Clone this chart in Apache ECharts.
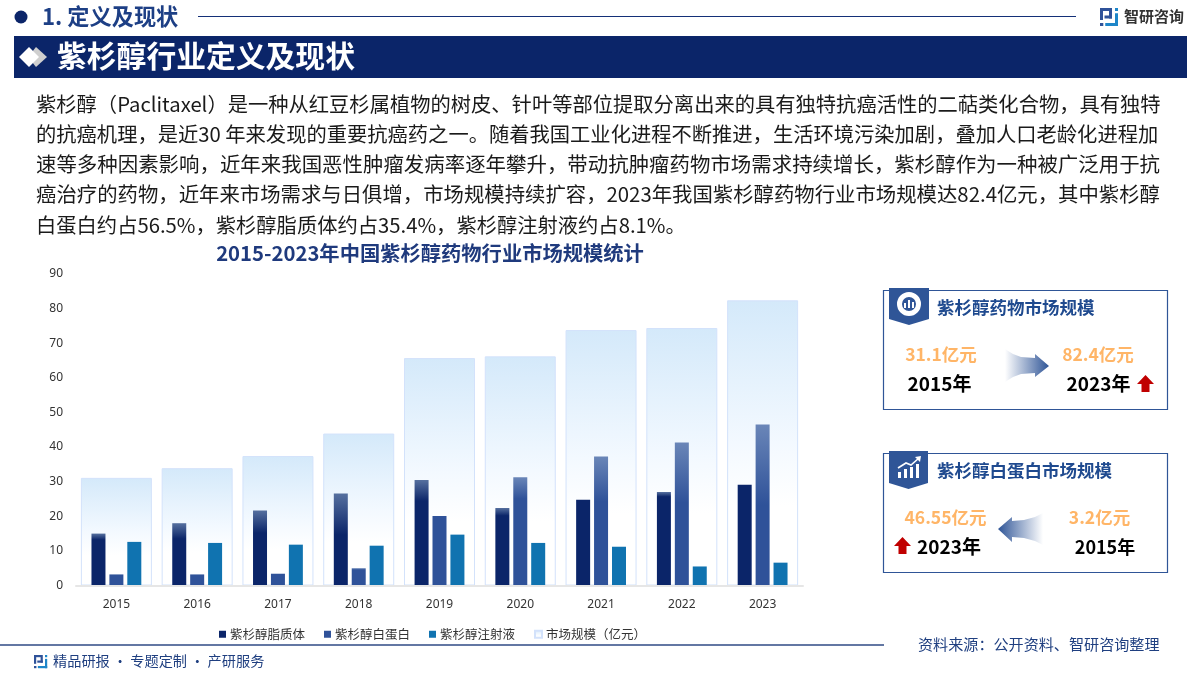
<!DOCTYPE html>
<html><head><meta charset="utf-8">
<style>html,body{margin:0;padding:0;background:#fff}#c{width:1200px;height:674px}</style>
<script src="https://cdn.jsdelivr.net/npm/echarts@6/dist/echarts.min.js"></script>
</head><body><div id="c"></div>
<script>
var years = ['2015','2016','2017','2018','2019','2020','2021','2022','2023'];
var market = [31.1,33.9,37.4,43.9,65.7,66.2,73.8,74.4,82.4];
var liposome = [15.0,18.0,21.7,26.6,30.5,22.4,24.8,27.0,29.1];
var albumin = [3.2,3.2,3.4,5.0,20.1,31.3,37.3,41.3,46.55];
var injection = [12.6,12.3,11.8,11.5,14.7,12.3,11.2,5.5,6.6];
var bodyLines = [
'紫杉醇（Paclitaxel）是一种从红豆杉属植物的树皮、针叶等部位提取分离出来的具有独特抗癌活性的二萜类化合物，具有独特',
'的抗癌机理，是近30 年来发现的重要抗癌药之一。随着我国工业化进程不断推进，生活环境污染加剧，叠加人口老龄化进程加',
'速等多种因素影响，近年来我国恶性肿瘤发病率逐年攀升，带动抗肿瘤药物市场需求持续增长，紫杉醇作为一种被广泛用于抗',
'癌治疗的药物，近年来市场需求与日俱增，市场规模持续扩容，2023年我国紫杉醇药物行业市场规模达82.4亿元，其中紫杉醇',
'白蛋白约占56.5%，紫杉醇脂质体约占35.4%，紫杉醇注射液约占8.1%。'];
var bodySizes = [20.3,20.3,20.46,20.39,20.3];
var lipoSheen = [.12,.25,.3,.45,.2,.1,0,.05,0];
var albSheen = [0,0,0,.1,0,.2,.35,.42,.5];

var CJK = '"Noto Sans CJK SC","Noto Sans",sans-serif';
var NAVY = '#0b2569', BLUE = '#2f5299', TEAL = '#1073b0';
function grad(stops){return {type:'linear',x:0,y:0,x2:0,y2:1,colorStops:stops};}
function sheen(base,light,a){
  if(!a) return base;
  return grad([{offset:0,color:light},{offset:Math.min(.9,a),color:base},{offset:1,color:base}]);
}
function txt(s,x,y,size,color,weight,align,extra){
  var st = {text:s,x:x,y:y,fill:color,font:(weight||'normal')+' '+size+'px '+CJK,textAlign:align||'left',textVerticalAlign:'middle'};
  if(extra) for(var k in extra) st[k]=extra[k];
  return {type:'text',silent:true,z:10,style:st};
}
function poly(pts,fill,z){return {type:'polygon',silent:true,z:z||9,shape:{points:pts},style:{fill:fill}};}
function rect(x,y,w,h,style,z){return {type:'rect',silent:true,z:z||8,shape:{x:x,y:y,width:w,height:h},style:style};}
function line(x1,y1,x2,y2,c,w){return {type:'line',silent:true,z:8,shape:{x1:x1,y1:y1,x2:x2,y2:y2},style:{stroke:c,lineWidth:w||1}};}
function up(x,y){return poly([[x+8.5,y],[x+17,y+9],[x+12.5,y+9],[x+12.5,y+17],[x+4.5,y+17],[x+4.5,y+9],[x,y+9]],'#c00000');}
function logo(x,y,s,c1,c2){
  return [
    rect(x,y,7*s,2*s,{fill:c1},9),rect(x,y,2*s,8*s,{fill:c1},9),rect(x,y+10*s,2.2*s,2*s,{fill:c1},9),
    rect(x+3*s,y+5*s,5*s,2*s,{fill:c1},9),rect(x+6*s,y,2*s,7*s,{fill:c1},9),
    rect(x+10*s,y,2*s,2*s,{fill:c2},9),rect(x+10*s,y+3.5*s,2*s,8.5*s,{fill:c2},9),
    rect(x+3.5*s,y+10*s,8.5*s,2*s,{fill:c2},9)
  ];
}
var arrowR = poly([[1005,349],[1013,354],[1021,357],[1035,358],[1035,354],[1049,366],[1035,377],[1035,373],[1021,374],[1013,377],[1005,382]],
  {type:'linear',x:0,y:0,x2:1,y2:0,colorStops:[{offset:0,color:'#ffffff'},{offset:1,color:'#2f5597'}]});
var arrowL = poly([[1043,513],[1035,517],[1024,520],[1012,521],[1012,517],[998,529],[1012,542],[1012,537],[1024,538],[1035,541],[1043,545]],
  {type:'linear',x:0,y:0,x2:1,y2:0,colorStops:[{offset:0,color:'#2f5597'},{offset:1,color:'#ffffff'}]});

var gfx = [
  {type:'circle',silent:true,z:9,shape:{cx:21,cy:17,r:6.5},style:{fill:NAVY}},
  txt('1. 定义及现状',42,17,22.2,'#1d3f85','bold'),
  line(198,16.5,1076,16.5,'#143078',1),
  txt('智研咨询',1124,16,15,'#333333','bold'),
  rect(14,36,1173,42,{fill:NAVY}),
  poly([[36,47],[47,57],[36,67],[28,57]],'#cfcfcf'),
  poly([[29,47],[39,57],[29,67],[19,57]],'#ffffff',10),
  txt('紫杉醇行业定义及现状',57,56,29.8,'#ffffff','bold'),
  txt('精品研报 · 专题定制 · 产研服务',53,661,14.2,'#1f3f80'),
  txt('资料来源：公开资料、智研咨询整理',918,644,15.1,'#1f3f80'),
  line(0,645,884,645,'#2f4a85',1.5),
  rect(883.5,290.5,284,119,{fill:'#fff',stroke:'#2f5597',lineWidth:1.2},5),
  rect(883.5,453.5,284,119,{fill:'#fff',stroke:'#2f5597',lineWidth:1.2},5),
  poly([[889,288],[929,288],[929,319],[909,325],[889,319]],'#2f5597'),
  poly([[889,451],[928,451],[928,483],[908.5,489],[889,483]],'#2f5597'),
  {type:'ring',silent:true,z:10,shape:{cx:909,cy:304,r:12,r0:7},style:{fill:'#fff'}},
  rect(904,303,2,5,{fill:'#fff'},10),rect(908,300,2,8,{fill:'#fff'},10),rect(912,302,2,6,{fill:'#fff'},10),
  rect(898,472,3,6,{fill:'#fff'},10),rect(904,469,3,9,{fill:'#fff'},10),rect(910,467,3,11,{fill:'#fff'},10),rect(916,464,3,14,{fill:'#fff'},10),
  {type:'polyline',silent:true,z:10,shape:{points:[[898,468],[906,463],[911,465],[919,458]]},style:{stroke:'#fff',lineWidth:1.6,fill:null}},
  poly([[915,457],[921,456],[920,462]],'#fff',10),
  txt('紫杉醇药物市场规模',937,307,17.5,'#1f4a8f','bold'),
  txt('紫杉醇白蛋白市场规模',937,470,17.5,'#1f4a8f','bold'),
  txt('31.1亿元',941,354,17.5,'#ffb567','bold','center'),
  txt('2015年',939.5,384,19,'#000000','bold','center'),
  txt('82.4亿元',1098,354,17.5,'#ffb567','bold','center'),
  txt('2023年',1098.5,384,19,'#000000','bold','center'),
  up(1137,375),
  txt('46.55亿元',945.5,517,17.5,'#ffb567','bold','center'),
  txt('2023年',949,547,19,'#000000','bold','center'),
  up(894,537),
  txt('3.2亿元',1099.5,517,17.5,'#ffb567','bold','center'),
  txt('2015年',1105,547,18,'#000000','bold','center'),
  arrowR, arrowL
].concat(logo(1100,8,1.5,'#2f5299','#1d86c9'),logo(34,655,1.1,'#2f5299','#1d86c9'));
bodyLines.forEach(function(s,i){ gfx.push(txt(s,36,104+30.2*i,bodySizes[i],'#1a1a1a')); });

var marketFill = grad([{offset:0,color:'#d4e9fa'},{offset:.5,color:'#f3f9ff'},{offset:.72,color:'#ffffff'},{offset:1,color:'#ffffff'}]);
var option = {
  animation:false,
  backgroundColor:'#fff',
  title:{text:'2015-2023年中国紫杉醇药物行业市场规模统计',left:425,top:236,textAlign:'center',
    textStyle:{fontFamily:CJK,fontSize:20.3,fontWeight:'bold',color:'#1f3a7d',lineHeight:24}},
  legend:{left:214,top:623,itemWidth:7,itemHeight:7,itemGap:19,icon:'rect',
    data:['紫杉醇脂质体','紫杉醇白蛋白','紫杉醇注射液','市场规模（亿元）'],
    textStyle:{fontFamily:CJK,fontSize:12.5,color:'#333',padding:[0,0,0,-1]}},
  grid:{left:76,right:397,top:274,bottom:88.5},
  xAxis:[
   {type:'category',data:years,axisTick:{show:false},axisLine:{lineStyle:{color:'#e6e6e6',width:2}},
    axisLabel:{margin:13,fontFamily:'"Noto Sans",sans-serif',fontSize:12,color:'#333'},z:3},
   {type:'category',data:years,show:false}
  ],
  yAxis:{type:'value',min:0,max:90,interval:10,splitLine:{show:false},axisLine:{show:false},axisTick:{show:false},
    axisLabel:{margin:13,padding:[4,0,0,0],fontFamily:'"Noto Sans",sans-serif',fontSize:12,color:'#333'}},
  series:[
   {name:'市场规模（亿元）',type:'bar',xAxisIndex:1,data:market,barWidth:71,z:1,
    itemStyle:{color:marketFill,borderColor:'#d3e2fb',borderWidth:1}},
   {name:'紫杉醇脂质体',type:'bar',barWidth:14,barGap:'28%',z:2,
    itemStyle:{color:NAVY},
    data:liposome.map(function(v,i){return {value:v,itemStyle:{color:sheen(NAVY,'#56709f',lipoSheen[i])}};})},
   {name:'紫杉醇白蛋白',type:'bar',barWidth:14,barGap:'28%',z:2,
    itemStyle:{color:BLUE},
    data:albumin.map(function(v,i){return {value:v,itemStyle:{color:sheen(BLUE,'#6a86b8',albSheen[i])}};})},
   {name:'紫杉醇注射液',type:'bar',barWidth:14,barGap:'28%',z:2,data:injection,itemStyle:{color:TEAL}}
  ],
  graphic:gfx
};
echarts.init(document.getElementById('c'),null,{renderer:'canvas'}).setOption(option);
</script></body></html>
